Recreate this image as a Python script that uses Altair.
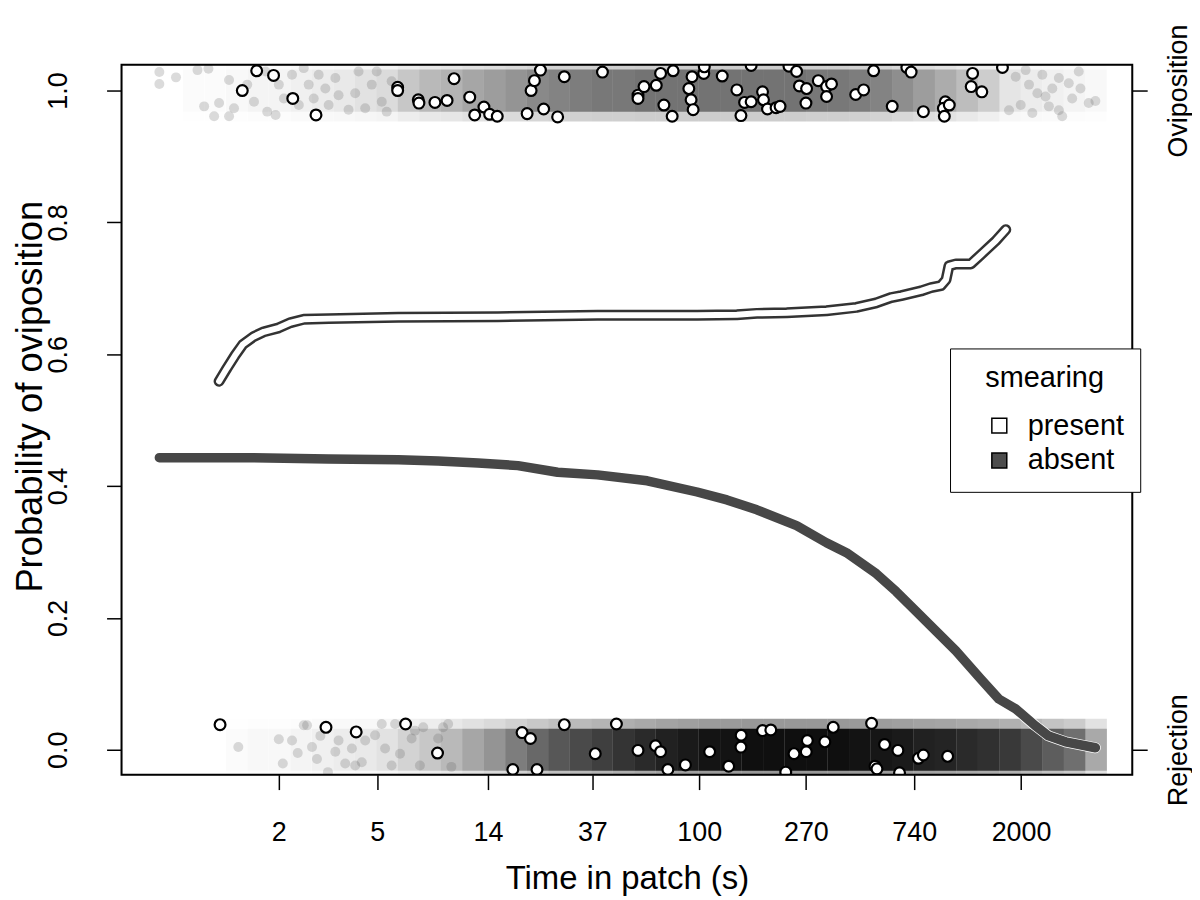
import math
import altair as alt
import pandas as pd

# ---------------- data (x = natural log of time in patch, s) ----------------
tick_seconds = [2, 5, 14, 37, 100, 270, 740, 2000]

# fitted curves
present_lt = [0.137, 0.211, 0.285, 0.359, 0.461, 0.554, 0.693, 0.804, 0.925, 1.157,
              1.805, 2.732, 3.659, 4.586, 4.956, 5.142, 5.420, 5.790, 6.068, 6.254,
              6.393, 6.486, 6.671, 6.763, 6.856, 6.903, 6.930, 6.995, 7.134, 7.227,
              7.366, 7.459]
present_p = [0.559, 0.579, 0.598, 0.615, 0.627, 0.634, 0.640, 0.648, 0.653, 0.654,
             0.656, 0.657, 0.659, 0.659, 0.660, 0.662, 0.663, 0.666, 0.671, 0.678,
             0.686, 0.689, 0.696, 0.701, 0.704, 0.713, 0.734, 0.737, 0.737, 0.751,
             0.772, 0.789]

absent_lt = [-0.419, 0.415, 1.157, 1.805, 2.176, 2.547, 2.918, 3.288, 3.659, 4.122,
             4.586, 4.864, 5.142, 5.512, 5.790, 5.976, 6.254, 6.439, 6.625, 6.810,
             6.995, 7.227, 7.394, 7.551, 7.737, 7.857, 8.015, 8.293]
absent_p = [0.443, 0.443, 0.441, 0.440, 0.438, 0.435, 0.431, 0.421, 0.417, 0.408,
            0.391, 0.379, 0.364, 0.340, 0.314, 0.299, 0.267, 0.240, 0.210, 0.180,
            0.150, 0.107, 0.077, 0.062, 0.036, 0.021, 0.012, 0.003]

# jittered observations, smearing present (white points)
present_obs_lt = [0.353, 0.487, 0.644, 0.823, 1.039, 1.799, 1.799, 1.991, 1.997, 2.146,
                  2.259, 2.324, 2.470, 2.516, 2.602, 2.655, 2.726, 3.004, 3.041, 3.072,
                  3.128, 3.158, 3.288, 3.350, 3.705, 4.036, 4.036, 4.092, 4.206, 4.246,
                  4.363, 4.277, 4.354, 4.539, 4.648, 4.653, 4.509, 4.530, 4.549, 4.820,
                  4.956, 5.028, 5.089, 4.994, 5.089, 5.195, 5.204, 5.241, 5.321, 5.358,
                  5.441, 5.512, 5.538, 5.605, 5.599, 5.714, 5.791, 5.837, 5.791, 6.062,
                  6.136, 6.229, 6.402, 6.538, 6.578, 6.692, 6.896, 6.878, 6.887, 6.933,
                  7.150, 7.137, 7.236, 7.428,
                  0.146, 1.132, 1.413, 1.873, 2.170, 2.957, 3.035, 2.871, 3.096, 3.350,
                  3.638, 3.835, 4.036, 4.199, 4.246, 4.314, 4.477, 4.703, 4.880, 4.996,
                  4.994, 5.195, 5.272, 5.411, 5.488, 5.602, 5.612, 5.775, 5.853, 6.210,
                  6.242, 6.260, 6.331, 6.455, 6.470, 6.646, 6.692, 6.918]
present_obs_p = [1.000, 1.030, 1.023, 0.988, 0.963, 1.005, 1.000, 0.986, 0.981, 0.982,
                 0.985, 1.018, 0.990, 0.963, 0.975, 0.964, 0.961, 0.965, 1.000, 1.015,
                 1.031, 0.972, 0.960, 1.021, 1.028, 0.993, 0.988, 1.006, 1.008, 1.026,
                 1.030, 0.978, 0.961, 1.021, 1.026, 1.036, 1.003, 0.986, 0.971, 1.022,
                 1.001, 0.982, 0.983, 0.962, 1.038, 0.998, 0.986, 0.972, 0.974, 0.976,
                 1.037, 1.029, 1.007, 1.003, 0.981, 1.015, 1.006, 1.010, 0.991, 0.994,
                 1.001, 1.030, 0.976, 1.035, 1.028, 0.968, 0.983, 0.973, 0.961, 0.978,
                 1.026, 1.006, 0.998, 1.035,
                 0.038, 0.034, 0.027, 0.039, -0.005, 0.026, 0.017, -0.030, -0.030, 0.038,
                 -0.006, 0.039, -0.001, 0.006, -0.003, -0.030, -0.023, -0.003, -0.025, 0.022,
                 0.004, 0.029, 0.030, -0.034, -0.006, -0.003, 0.014, 0.012, 0.034, 0.040,
                 -0.025, -0.029, 0.008, -0.001, -0.035, -0.013, -0.008, -0.010]

# jittered observations, smearing absent: individually visible grey points
absent_obs_lt = [-0.419, -0.264, -0.419, -0.064, 0.038, -0.002, 0.091, 0.137, 0.230, 0.276,
                 0.230, 0.399, 0.462, 0.570, 0.585, 0.663, 0.693, 0.740, 0.816, 0.879,
                 0.925, 0.971, 1.018, 1.064, 1.126, 1.157, 1.219, 1.249, 1.342, 1.404,
                 1.435, 1.497, 1.558, 1.604, 1.651, 1.697, 1.743,
                 7.551, 7.644, 7.675, 7.753, 7.799, 7.860, 7.892, 7.953, 7.984, 8.045,
                 8.077, 8.138, 8.154, 8.231, 8.293, 7.598, 7.706, 7.829, 7.489, 7.953,
                 0.316, 0.693, 0.730, 0.816, 0.869, 0.925, 0.956, 1.002, 1.048, 1.080,
                 1.150, 1.219, 1.249, 1.311, 1.373, 1.404, 1.465, 1.497, 1.589, 1.651,
                 1.682, 1.743, 1.775, 1.821, 1.929, 1.960, 2.006, 2.037, 2.176, 2.222,
                 2.269, 2.299]
absent_obs_p = [1.028, 1.020, 1.010, 1.031, 1.033, 0.976, 0.961, 0.981, 1.016, 0.973,
                0.961, 1.009, 0.983, 1.029, 0.968, 0.963, 1.009, 0.988, 1.024, 0.978,
                1.034, 1.009, 0.988, 1.024, 1.003, 0.978, 1.019, 0.993, 0.971, 0.996,
                1.029, 0.973, 1.009, 1.029, 0.983, 0.968, 1.014,
                1.021, 1.031, 1.009, 0.996, 1.024, 0.976, 1.003, 1.019, 0.961, 1.011,
                0.988, 1.029, 1.003, 0.981, 0.984, 0.978, 0.966, 0.991, 0.970, 0.970,
                0.004, 0.016, -0.021, 0.014, -0.005, 0.037, 0.037, 0.004, -0.014, 0.021,
                -0.034, -0.003, 0.014, -0.021, 0.002, -0.024, -0.019, 0.014, 0.022, 0.039,
                0.002, -0.024, 0.039, -0.006, 0.017, 0.029, -0.024, 0.034, 0.017, 0.034,
                0.039, -0.026]

# dense part of the smearing-absent clouds: darkness per log-time bin
bin_left = [-0.4, -0.2, 0.0, 0.2, 0.4, 0.6, 0.8, 1.0, 1.2, 1.4, 1.6, 1.8, 2.0, 2.2, 2.4,
            2.6, 2.8, 3.0, 3.2, 3.4, 3.6, 3.8, 4.0, 4.2, 4.4, 4.6, 4.8, 5.0, 5.2, 5.4,
            5.6, 5.8, 6.0, 6.2, 6.4, 6.6, 6.8, 7.0, 7.2, 7.4, 7.6, 7.8, 8.0, 8.2]
top_density = [0.00, 0.01, 0.01, 0.02, 0.03, 0.03, 0.04, 0.05, 0.06, 0.08, 0.10,
               0.16, 0.20, 0.22, 0.26, 0.29, 0.32, 0.36, 0.38, 0.40, 0.42, 0.42,
               0.44, 0.44, 0.44, 0.44, 0.44, 0.44, 0.44, 0.44, 0.42, 0.42, 0.40,
               0.38, 0.34, 0.29, 0.24, 0.19, 0.14, 0.07, 0.05, 0.04, 0.03, 0.02]
bottom_density = [0.00, 0.00, 0.00, 0.01, 0.02, 0.02, 0.03, 0.04, 0.05, 0.06, 0.08,
                  0.12, 0.16, 0.20, 0.26, 0.32, 0.40, 0.48, 0.55, 0.60, 0.65, 0.70,
                  0.75, 0.80, 0.84, 0.87, 0.88, 0.90, 0.90, 0.90, 0.90, 0.90, 0.88,
                  0.86, 0.84, 0.80, 0.78, 0.75, 0.72, 0.68, 0.60, 0.52, 0.45, 0.25]

# ---------------- styling ----------------
FONT = "Liberation Sans"
BIN_W = 0.2
W, H = 1015, 713
X_DOMAIN = [-0.771, 8.636]
Y_DOMAIN = [-0.0378, 1.0393]

x_axis = alt.Axis(values=[math.log(v) for v in tick_seconds],
                  labelExpr="format(exp(datum.value), '.0f')",
                  title="Time in patch (s)", titleFont=FONT, titleFontSize=33,
                  titleFontWeight="normal", titleColor="black",
                  titleX=W / 2, titleY=104, titleAlign="center", titleBaseline="middle",
                  labelFont=FONT, labelFontSize=27, labelColor="black",
                  labelPadding=43, labelBaseline="middle", labelFlush=False,
                  labelOverlap=False, tickSize=15, tickColor="black", tickWidth=1.5,
                  domain=False, grid=False)
y_axis = alt.Axis(values=[0, 0.2, 0.4, 0.6, 0.8, 1.0], format=".1f",
                  title="Probability of oviposition", titleFont=FONT, titleFontSize=36.5,
                  titleFontWeight="normal", titleColor="black", titleAngle=270,
                  titleX=-91, titleY=333, titleAlign="center", titleBaseline="middle",
                  labelFont=FONT, labelFontSize=27, labelColor="black", labelAngle=270,
                  labelAlign="center", labelBaseline="middle", labelPadding=48,
                  labelFlush=False, labelOverlap=False,
                  tickSize=15, tickColor="black", tickWidth=1.5, domain=False, grid=False)
y_axis_right = alt.Axis(orient="right", values=[0, 1],
                        labelExpr="datum.value > 0.5 ? 'Oviposition' : 'Rejection'",
                        title=None, labelFont=FONT, labelFontSize=27, labelColor="black",
                        labelAngle=270, labelAlign="center", labelBaseline="middle",
                        labelPadding=31, labelFlush=False, labelOverlap=False,
                        tickSize=15, tickColor="black", tickWidth=1.5,
                        domain=False, grid=False)

X = alt.X("lt:Q", scale=alt.Scale(domain=X_DOMAIN, nice=False, zero=False), axis=x_axis)
Y = alt.Y("p:Q", scale=alt.Scale(domain=Y_DOMAIN, nice=False, zero=False), axis=y_axis)

legend = alt.Legend(orient="none", legendX=832, legendY=285, title="smearing",
                    titleFont=FONT, titleFontSize=29, titleFontWeight="normal",
                    titleColor="black", titleAnchor="middle", titlePadding=18,
                    labelFont=FONT, labelFontSize=29, labelColor="black", labelOffset=14,
                    symbolType="square", symbolSize=225, symbolStrokeColor="black",
                    symbolStrokeWidth=1.5, symbolOpacity=1, symbolOffset=19,
                    rowPadding=5, padding=16, strokeColor="black", fillColor="white",
                    direction="vertical")
FILL = alt.Fill("smearing:N",
                scale=alt.Scale(domain=["present", "absent"], range=["white", "#4d4d4d"]),
                legend=legend)

# ---------------- tables ----------------
rect_rows = []
for lo, dt, db in zip(bin_left, top_density, bottom_density):
    for c, d in ((1.0, dt), (0.0, db)):
        rect_rows.append(dict(lt=lo, lt2=lo + BIN_W, p=c - 0.047, p2=c + 0.047, op=0.45 * d))
        rect_rows.append(dict(lt=lo, lt2=lo + BIN_W, p=c - 0.032, p2=c + 0.032, op=d))
rects = pd.DataFrame(rect_rows)

grey = pd.DataFrame({"lt": absent_obs_lt, "p": absent_obs_p, "smearing": "absent"})
white = pd.DataFrame({"lt": present_obs_lt, "p": present_obs_p, "smearing": "present"})
line_present = pd.DataFrame({"lt": present_lt, "p": present_p})
line_absent = pd.DataFrame({"lt": absent_lt, "p": absent_p})
right_ticks = pd.DataFrame({"lt": [0.0, 0.0], "p": [0.0, 1.0]})
frame_df = pd.DataFrame({"k": [0]})

# ---------------- layers ----------------
cloud = alt.Chart(rects).mark_rect(clip=True, color="black").encode(
    x=X, x2="lt2:Q", y=Y, y2="p2:Q", opacity=alt.Opacity("op:Q", scale=None))

grey_pts = alt.Chart(grey).mark_circle(size=100, opacity=0.2, clip=True).encode(
    x=X, y=Y, fill=FILL)

white_pts = alt.Chart(white).mark_circle(size=118, opacity=1, stroke="black",
                                         strokeWidth=2.2, clip=True).encode(
    x=X, y=Y, fill=FILL)

absent_under = alt.Chart(line_absent).mark_line(color="white", strokeWidth=11,
                                                strokeCap="round", strokeJoin="round").encode(x=X, y=Y)
absent_line = alt.Chart(line_absent).mark_line(color="#474747", strokeWidth=9.5,
                                               strokeCap="round", strokeJoin="round").encode(x=X, y=Y)
present_outer = alt.Chart(line_present).mark_line(color="#333333", strokeWidth=11,
                                                  strokeCap="round", strokeJoin="round").encode(x=X, y=Y)
present_inner = alt.Chart(line_present).mark_line(color="white", strokeWidth=6,
                                                  strokeCap="round", strokeJoin="round").encode(x=X, y=Y)

frame = alt.Chart(frame_df).mark_rect(filled=False, stroke="black", strokeWidth=2).encode(
    x=alt.value(0), x2=alt.value(W), y=alt.value(0), y2=alt.value(H))

inner = alt.layer(cloud, grey_pts, white_pts, absent_under, absent_line,
                  present_outer, present_inner, frame)

right = alt.Chart(right_ticks).mark_point(opacity=0).encode(
    x=X,
    y=alt.Y("p:Q", scale=alt.Scale(domain=Y_DOMAIN, nice=False, zero=False), axis=y_axis_right))

chart = alt.layer(inner, right).resolve_scale(y="independent").properties(
    width=W, height=H,
    autosize=alt.AutoSizeParams(type="none"),
    padding={"left": 114, "top": 55, "right": 60, "bottom": 125},
).configure_view(stroke=None).configure(background="white")

chart.save("out.html", embed_options={"renderer": "svg", "actions": False})
